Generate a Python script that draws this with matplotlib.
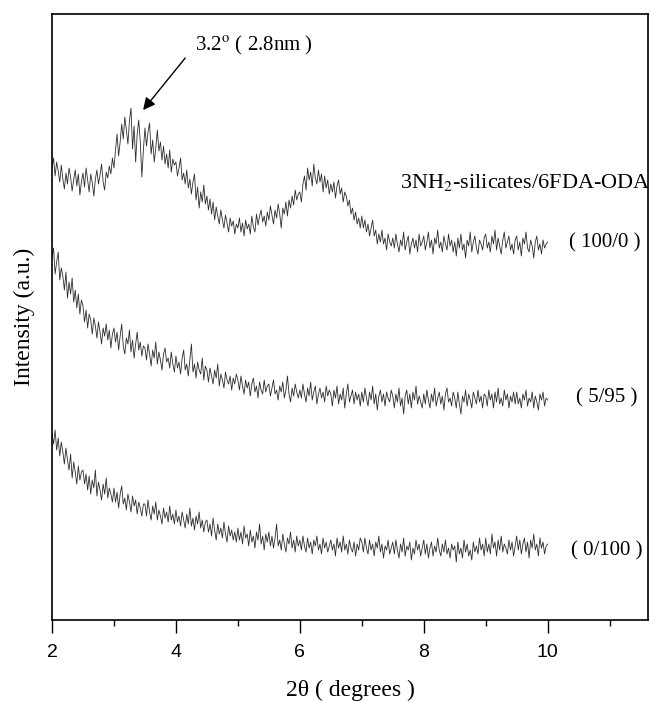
import numpy as np
import matplotlib
matplotlib.use("Agg")
import matplotlib.pyplot as plt
from matplotlib.ticker import MultipleLocator

plt.rcParams["mathtext.fontset"] = "stix"

# 2-theta grid (degrees), step 0.025 from 2 to 10
two_theta = np.linspace(2.0, 10.0, 321)

# Intensities (a.u., stacked offsets as drawn)
i_100_0 = [
    452, 462, 444, 458, 449, 438, 455, 441, 431, 447, 436, 452, 443, 429, 440, 450, 434, 446, 425, 438,
    447, 433, 452, 440, 428, 446, 437, 424, 441, 450, 436, 445, 456, 438, 430, 448, 442, 454, 446, 462,
    452, 470, 486, 464, 478, 496, 481, 503, 490, 476, 499, 512, 471, 494, 458, 486, 500, 478, 443, 470,
    492, 474, 488, 497, 466, 480, 458, 472, 490, 469, 478, 460, 474, 456, 466, 452, 470, 448, 461, 455,
    458, 444, 452, 462, 440, 447, 436, 450, 432, 441, 426, 438, 446, 420, 433, 412, 428, 418, 435, 416,
    424, 410, 421, 406, 418, 400, 413, 404, 396, 410, 400, 392, 405, 397, 388, 402, 394, 399, 386, 396,
    392, 402, 388, 397, 384, 400, 391, 396, 386, 404, 393, 388, 406, 395, 404, 410, 398, 404, 394, 408,
    400, 414, 405, 396, 410, 402, 416, 406, 392, 412, 406, 418, 404, 420, 412, 424, 415, 430, 420, 426,
    428, 418, 436, 444, 430, 452, 440, 448, 434, 456, 442, 436, 450, 438, 446, 428, 444, 432, 440, 426,
    436, 428, 438, 422, 434, 440, 426, 432, 418, 428, 424, 414, 420, 406, 412, 400, 408, 396, 402, 392,
    404, 392, 400, 388, 396, 384, 392, 400, 384, 390, 376, 386, 378, 390, 376, 382, 370, 386, 378, 374,
    382, 372, 386, 376, 368, 380, 374, 388, 370, 378, 384, 366, 376, 382, 372, 380, 368, 386, 374, 378,
    384, 370, 378, 388, 372, 380, 366, 382, 376, 390, 372, 378, 368, 384, 376, 370, 386, 374, 380, 368,
    378, 364, 382, 372, 386, 370, 376, 362, 380, 374, 388, 368, 378, 384, 372, 366, 380, 376, 370, 382,
    386, 372, 378, 368, 384, 376, 390, 370, 382, 374, 366, 380, 388, 372, 378, 384, 370, 376, 366, 380,
    384, 370, 378, 364, 382, 376, 388, 372, 368, 380, 374, 362, 378, 384, 370, 376, 366, 380, 372, 376,
    378,
]

i_5_95 = [
    362, 372, 346, 358, 368, 340, 352, 344, 330, 348, 322, 338, 326, 342, 318, 330, 312, 326, 306, 320,
    314, 298, 310, 292, 306, 300, 286, 302, 294, 282, 298, 288, 276, 292, 284, 296, 280, 290, 272, 286,
    292, 278, 288, 270, 284, 296, 274, 266, 282, 276, 290, 268, 280, 262, 276, 288, 270, 278, 264, 274,
    272, 260, 276, 266, 254, 270, 262, 278, 256, 268, 260, 250, 266, 272, 258, 262, 252, 268, 256, 248,
    264, 252, 258, 246, 262, 270, 250, 256, 244, 260, 276, 248, 256, 242, 258, 250, 246, 262, 240, 254,
    250, 238, 252, 244, 236, 250, 242, 256, 234, 246, 240, 232, 248, 240, 236, 244, 230, 242, 236, 246,
    240, 230, 244, 234, 226, 240, 232, 238, 224, 236, 242, 228, 234, 222, 238, 230, 226, 240, 228, 234,
    236, 224, 232, 240, 226, 230, 220, 234, 228, 238, 222, 230, 244, 226, 218, 232, 224, 236, 228, 222,
    230, 222, 236, 226, 218, 232, 224, 238, 220, 228, 234, 216, 226, 232, 222, 228, 218, 234, 224, 230,
    226, 214, 230, 222, 234, 216, 226, 220, 232, 212, 226, 236, 218, 224, 230, 216, 228, 220, 226, 214,
    228, 218, 232, 222, 214, 228, 220, 234, 216, 226, 210, 224, 230, 218, 226, 214, 228, 222, 218, 230,
    224, 212, 226, 218, 232, 214, 222, 206, 224, 230, 216, 226, 212, 228, 220, 234, 216, 224, 218, 212,
    226, 216, 230, 220, 212, 226, 218, 232, 214, 222, 228, 216, 224, 210, 226, 232, 218, 222, 214, 228,
    222, 212, 228, 216, 206, 224, 218, 230, 214, 226, 220, 212, 228, 222, 216, 230, 218, 224, 212, 226,
    224, 214, 230, 220, 226, 212, 228, 218, 232, 216, 222, 214, 230, 220, 226, 212, 224, 218, 228, 216,
    228, 216, 222, 212, 226, 220, 230, 214, 222, 218, 228, 212, 224, 218, 210, 226, 220, 228, 214, 222,
    220,
]

i_0_100 = [
    186, 176, 190, 170, 182, 164, 178, 168, 156, 172, 160, 150, 166, 142, 158, 148, 136, 154, 140, 148,
    150, 136, 146, 130, 144, 126, 140, 132, 150, 124, 138, 130, 120, 136, 126, 142, 122, 132, 126, 118,
    132, 118, 128, 112, 126, 134, 116, 122, 110, 126, 118, 108, 124, 114, 120, 106, 118, 112, 104, 116,
    116, 104, 120, 108, 100, 114, 106, 118, 100, 110, 104, 96, 112, 102, 108, 98, 114, 100, 106, 96,
    110, 98, 104, 94, 108, 100, 92, 106, 96, 112, 94, 102, 90, 104, 96, 108, 92, 100, 88, 98,
    100, 88, 96, 84, 102, 90, 80, 96, 86, 92, 82, 98, 86, 78, 94, 84, 90, 80, 88, 78,
    92, 80, 88, 76, 94, 82, 86, 74, 90, 78, 84, 72, 88, 80, 96, 76, 84, 70, 86, 78,
    88, 74, 84, 72, 82, 96, 74, 80, 70, 86, 76, 68, 82, 76, 88, 72, 80, 68, 84, 74,
    80, 70, 84, 74, 68, 82, 72, 78, 66, 80, 74, 84, 70, 76, 66, 82, 72, 78, 68, 74,
    80, 70, 76, 64, 82, 72, 78, 68, 84, 70, 76, 66, 80, 72, 68, 78, 64, 76, 70, 82,
    78, 68, 82, 72, 66, 80, 70, 76, 64, 78, 72, 84, 68, 76, 62, 74, 70, 80, 66, 72,
    78, 66, 80, 70, 62, 76, 68, 82, 64, 74, 70, 78, 60, 72, 66, 80, 70, 76, 64, 72,
    80, 66, 76, 62, 72, 78, 64, 74, 68, 82, 70, 64, 76, 68, 80, 66, 72, 62, 76, 70,
    74, 58, 78, 66, 72, 62, 80, 68, 76, 64, 70, 60, 78, 68, 74, 66, 82, 70, 76, 64,
    82, 68, 76, 66, 86, 72, 78, 64, 80, 70, 84, 68, 76, 72, 66, 80, 70, 78, 64, 74,
    84, 70, 80, 66, 76, 82, 68, 78, 62, 80, 72, 86, 70, 76, 64, 82, 72, 78, 66, 74,
    76,
]

series_labels = ["( 100/0 )", "( 5/95 )", "( 0/100 )"]
label_x = [10.35, 10.45, 10.38]
label_y = [377, 222, 69]

serif = ["Liberation Serif", "DejaVu Serif"]
sans = ["Liberation Sans", "DejaVu Sans"]

fig = plt.figure(figsize=(6.5, 7.01), dpi=100)
ax = fig.add_axes([0.08, 0.1155, 0.917, 0.8645])

for ys in (i_100_0, i_5_95, i_0_100):
    ax.plot(two_theta, ys, color="#2e2e2e", lw=0.6)

for lab, lx, ly in zip(series_labels, label_x, label_y):
    ax.text(lx, ly, lab, fontsize=15, family=serif, ha="left", va="center")

ax.text(7.62, 438, r"3NH$_2$-silicates/6FDA-ODA", fontsize=16, family=serif,
        ha="left", va="center")

ax.text(4.3, 575, r"3.2$^{\mathrm{o}}$ ( 2.8nm )", fontsize=15, family=serif,
        ha="left", va="center")
ax.annotate("", xy=(3.47, 510), xytext=(4.15, 562),
            arrowprops=dict(arrowstyle="-|>", color="black", lw=1.0,
                            mutation_scale=18, shrinkA=0, shrinkB=0))

ax.set_xlim(2, 11.62)
ax.set_ylim(0, 606)
ax.xaxis.set_major_locator(MultipleLocator(2))
ax.xaxis.set_minor_locator(MultipleLocator(1))
ax.tick_params(axis="x", which="major", direction="out", length=9, width=1.0,
               labelsize=14, pad=8)
ax.tick_params(axis="x", which="minor", direction="out", length=4, width=1.0)
ax.set_yticks([])
for lbl in ax.get_xticklabels():
    lbl.set_family(sans)
for sp in ax.spines.values():
    sp.set_linewidth(1.2)

ax.set_xlabel("2\u03b8 ( degrees )", fontsize=17, family=serif, labelpad=14)
ax.set_ylabel("Intensity (a.u.)", fontsize=17, family=serif, labelpad=12)

fig.savefig("out.png", dpi=100)
